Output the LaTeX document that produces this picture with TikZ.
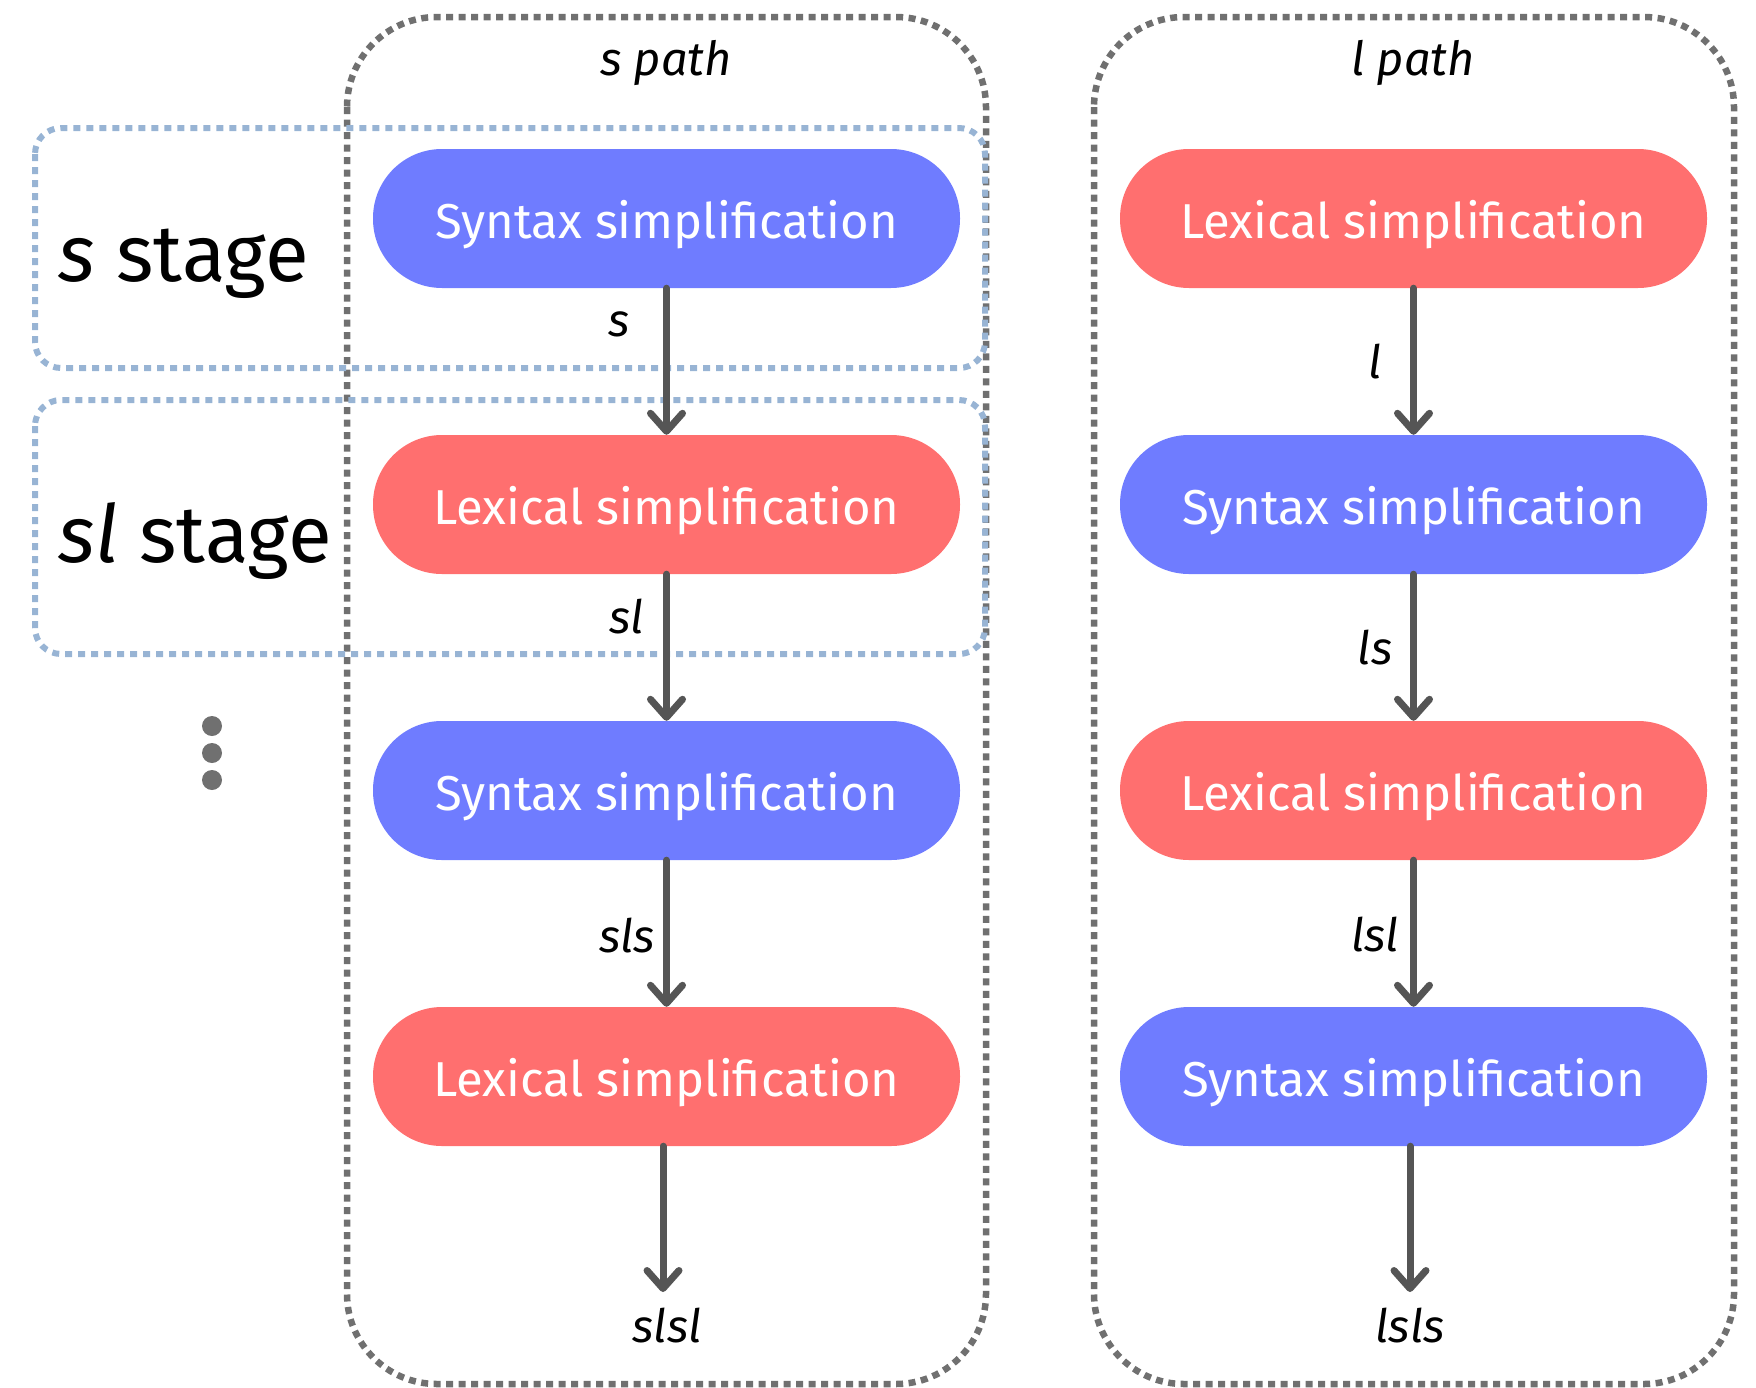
\documentclass[tikz,border=0pt]{standalone}
\usepackage{fontspec}
\setmainfont{Fira Sans}
\usetikzlibrary{arrows.meta}
\definecolor{synblue}{HTML}{6F7CFF}
\definecolor{lexred}{HTML}{FF6F6F}
\definecolor{boxgray}{HTML}{707070}
\definecolor{stageblue}{HTML}{98B4D4}
\definecolor{arrgray}{HTML}{555555}
\tikzset{
  pill/.style={rectangle, rounded corners=69pt, minimum width=587pt, minimum height=139pt, inner sep=0pt, text height=40pt, text depth=0pt, text=white, font=\fontsize{49}{58}\selectfont},
  synpill/.style={pill, fill=synblue},
  lexpill/.style={pill, fill=lexred},
  pathbox/.style={draw=boxgray, line width=6.5pt, dash pattern=on 7pt off 5.5pt, rounded corners=90pt},
  stagebox/.style={draw=stageblue, line width=6pt, dash pattern=on 7pt off 6pt, rounded corners=26pt},
  arr/.style={draw=arrgray, line width=7pt, line cap=round, line join=round, -{Straight Barb[length=18pt,width=32pt,line width=7pt,round]}},
  elabel/.style={font=\fontsize{46}{52}\selectfont\itshape, inner sep=0pt},
  title/.style={font=\fontsize{47}{54}\selectfont\itshape, inner sep=0pt},
  stagelabel/.style={font=\fontsize{80}{90}\selectfont, inner sep=0pt, anchor=base west},
  dot/.style={circle, fill=boxgray, minimum size=20pt, inner sep=0pt}
}
\begin{document}
\begin{tikzpicture}[x=1pt,y=-1pt]
\useasboundingbox (0,0) rectangle (1756,1387);
% containers
\draw[pathbox] (347,17) rectangle (986,1384);
\draw[pathbox] (1094,17) rectangle (1734,1384);
% stage boxes
\draw[stagebox] (35,128) rectangle (985,368);
\draw[stagebox] (35,400) rectangle (985,654);
% titles
\node[title, anchor=base] (tS) at (666,75) {s path};
\node[title, anchor=base] (tL) at (1413,75) {l path};
% stage labels
\node[stagelabel] (st1) at (58,281) {\textit{s} stage};
\node[stagelabel] (st2) at (58,562) {\textit{sl} stage};
% dots
\node[dot] (d1) at (212,726) {};
\node[dot] (d2) at (212,753) {};
\node[dot] (d3) at (212,780) {};
% s path pills
\node[synpill] (s1) at (666.5,218.5) {Syntax simplification};
\node[lexpill] (s2) at (666.5,504.5) {Lexical simplification};
\node[synpill] (s3) at (666.5,790.5) {Syntax simplification};
\node[lexpill] (s4) at (666.5,1076.5) {Lexical simplification};
% l path pills
\node[lexpill] (l1) at (1413.5,218.5) {Lexical simplification};
\node[synpill] (l2) at (1413.5,504.5) {Syntax simplification};
\node[lexpill] (l3) at (1413.5,790.5) {Lexical simplification};
\node[synpill] (l4) at (1413.5,1076.5) {Syntax simplification};
% arrows
\coordinate (e1) at (663,1292);
\coordinate (e2) at (1410,1292);
\draw[arr] (s1.south) -- (s2.north);
\draw[arr] (s2.south) -- (s3.north);
\draw[arr] (s3.south) -- (s4.north);
\draw[arr] (s4.south -| e1) -- (e1);
\draw[arr] (l1.south) -- (l2.north);
\draw[arr] (l2.south) -- (l3.north);
\draw[arr] (l3.south) -- (l4.north);
\draw[arr] (l4.south -| e2) -- (e2);
% edge labels
\node[elabel, anchor=base] (a1) at (619,336) {s};
\node[elabel, anchor=base] (a2) at (627,633) {sl};
\node[elabel, anchor=base] (a3) at (627,952) {sls};
\node[elabel, anchor=base] (a4) at (667,1342) {slsl};
\node[elabel, anchor=base] (b1) at (1375,378) {l};
\node[elabel, anchor=base] (b2) at (1375,664) {ls};
\node[elabel, anchor=base] (b3) at (1375,951) {lsl};
\node[elabel, anchor=base] (b4) at (1410,1342) {lsls};
\end{tikzpicture}
\end{document}
